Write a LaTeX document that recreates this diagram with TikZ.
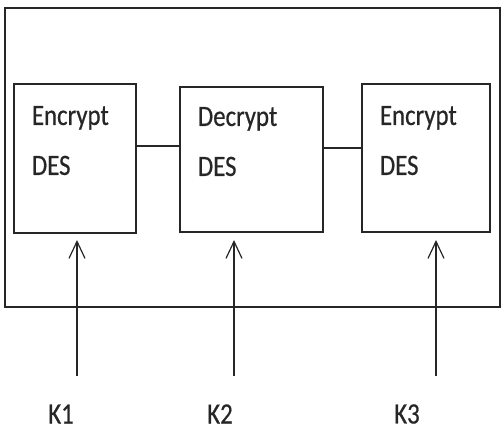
\documentclass[tikz,border=0pt]{standalone}
\usepackage{fontspec}
\setmainfont{Carlito}[FakeStretch=0.84, FakeBold=0.6]
\usetikzlibrary{positioning,arrows.meta}

\begin{document}
\begin{tikzpicture}[
                x=1pt, y=-1pt,
                line width=1.2pt,
                desbox/.style={draw=black!85, rectangle, inner sep=0pt},
                boxtext/.style={anchor=north west, inner sep=0pt, align=left, text=black!85,
                  font=\fontsize{29.5}{50}\selectfont},
                keytext/.style={inner sep=0pt, text=black!85, font=\fontsize{29.5}{34}\selectfont},
                keyline/.style={draw=black!85, -{Straight Barb[length=17pt, width=16pt, line width=1.2pt]}}
                ]
                \useasboundingbox (0,0) rectangle (502,439);
                % Outer frame
                \draw[black!85] (5,8) rectangle (500,307);
                % The three DES stages
                \node[desbox, minimum width=122pt, minimum height=149pt] (enc1) at (75,158.5) {};
                \node[desbox, minimum width=143pt, minimum height=145pt] (dec) at (251.5,159.5) {};
                \node[desbox, minimum width=128pt, minimum height=148pt] (enc2) at (426,158) {};
                \node[boxtext] (t1) at ([xshift=18pt, yshift=-22pt]enc1.north west) {Encrypt\\DES};
                \node[boxtext] (t2) at ([xshift=18pt, yshift=-20pt]dec.north west) {Decrypt\\DES};
                \node[boxtext] (t3) at ([xshift=18pt, yshift=-22pt]enc2.north west) {Encrypt\\DES};
                % Links between stages
                \draw[black!85] ([yshift=12.5pt]enc1.east) -- ([yshift=12.5pt]enc1.east -| dec.west);
                \draw[black!85] ([yshift=11.5pt]dec.east) -- ([yshift=11.5pt]dec.east -| enc2.west);
                % Keys
                \node[keytext] (k1) at (61,414) {K1};
                \node[keytext] (k2) at (220,414) {K2};
                \node[keytext] (k3) at (407,414) {K3};
                \coordinate (s1) at (77,376);   \coordinate (e1) at (77,240);
                \coordinate (s2) at (234,376);  \coordinate (e2) at (234,240);
                \coordinate (s3) at (436,376);  \coordinate (e3) at (436,240);
                \draw[keyline] (s1) -- (e1);
                \draw[keyline] (s2) -- (e2);
                \draw[keyline] (s3) -- (e3);
              \end{tikzpicture}
\end{document}
